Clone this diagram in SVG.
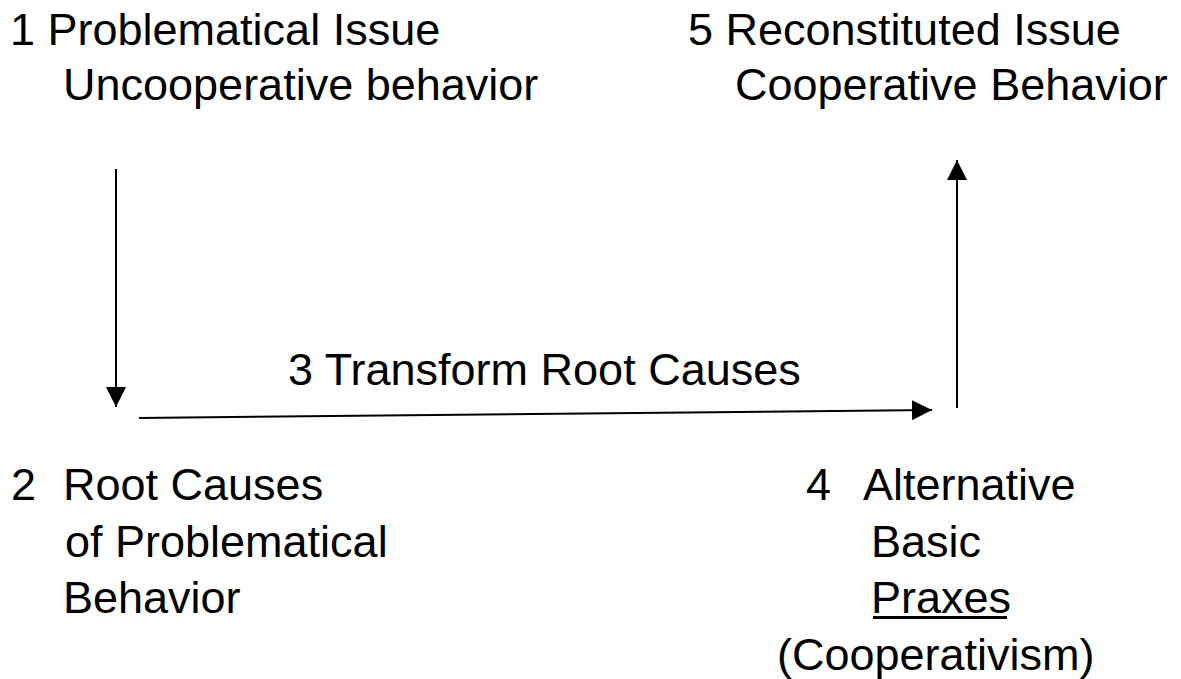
<svg xmlns="http://www.w3.org/2000/svg" width="1181" height="679" viewBox="0 0 1181 679">
<style>
text{font-family:"Liberation Sans",Arial,sans-serif;font-size:45px;fill:#000}
.c{stroke:#000;stroke-width:2;fill:none}
</style>
<defs>
<marker id="ah" markerWidth="20" markerHeight="20" refX="20" refY="10" orient="auto" markerUnits="userSpaceOnUse">
<path d="M0,0 L20,10 L0,20 Z" fill="#000"/>
</marker>
</defs>
<rect width="1181" height="679" fill="#fff"/>
<g id="connectors">
<line class="c" x1="116" y1="169" x2="116" y2="407" marker-end="url(#ah)"/>
<line class="c" x1="139" y1="418" x2="932" y2="410" marker-end="url(#ah)"/>
<line class="c" x1="957" y1="408" x2="957" y2="160" marker-end="url(#ah)"/>
</g>
<g id="node1">
<text x="10" y="45">1 Problematical Issue</text>
<text x="63" y="100">Uncooperative behavior</text>
</g>
<g id="node5">
<text x="688" y="45">5 Reconstituted Issue</text>
<text x="735" y="100">Cooperative Behavior</text>
</g>
<g id="node3">
<text x="288" y="385">3 Transform Root Causes</text>
</g>
<g id="node2">
<text y="500"><tspan x="11">2</tspan><tspan x="63">Root Causes</tspan></text>
<text x="65" y="557">of Problematical</text>
<text x="63" y="613">Behavior</text>
</g>
<g id="node4">
<text y="500"><tspan x="806">4</tspan><tspan x="863">Alternative</tspan></text>
<text x="871" y="557">Basic</text>
<text x="871" y="613">Praxes</text>
<line x1="873" y1="617.5" x2="1007" y2="617.5" stroke="#000" stroke-width="3"/>
<text x="777" y="670">(Cooperativism)</text>
</g>
</svg>
